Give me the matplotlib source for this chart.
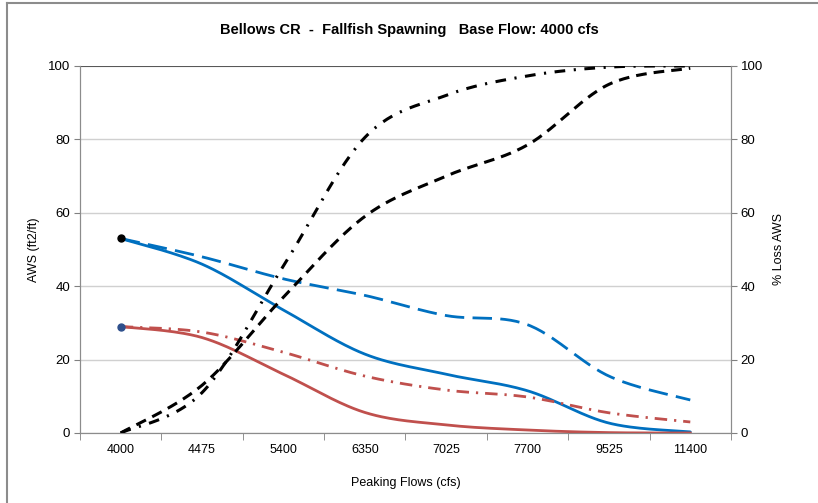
import numpy as np
import matplotlib
matplotlib.use("Agg")
import matplotlib.pyplot as plt
from matplotlib.lines import Line2D

plt.rcParams['font.family'] = ['Liberation Sans', 'DejaVu Sans']

categories = ["4000", "4475", "5400", "6350", "7025", "7700", "9525", "11400"]
aws_blue_solid = [53.0, 46.0, 33.5, 21.5, 16.0, 11.5, 2.7, 0.3]
aws_blue_dashed = [53.0, 48.0, 42.0, 37.5, 32.0, 29.5, 15.5, 9.0]
aws_red_solid = [29.0, 26.0, 16.0, 5.6, 2.2, 0.8, 0.1, 0.0]
aws_red_dashdot = [29.0, 27.5, 22.0, 15.5, 11.7, 9.8, 5.5, 3.0]
loss_black_dashed = [0.0, 13.0, 37.0, 59.0, 70.0, 78.5, 95.0, 99.4]
loss_black_dashdot = [0.0, 11.0, 45.5, 80.5, 92.0, 97.3, 99.7, 100.0]


def smooth(xs, ys, n=30):
    """Excel-style smoothed line (Bezier with Catmull-Rom control points)."""
    xs = np.asarray(xs, float)
    ys = np.asarray(ys, float)
    P = np.column_stack([xs, ys])
    out = []
    m = len(P)
    for i in range(m - 1):
        p0 = P[i - 1] if i > 0 else P[i]
        p1 = P[i]
        p2 = P[i + 1]
        p3 = P[i + 2] if i + 2 < m else P[i + 1]
        c1 = p1 + (p2 - p0) / 6.0
        c2 = p2 - (p3 - p1) / 6.0
        t = np.linspace(0, 1, n)[:, None]
        seg = ((1 - t) ** 3) * p1 + 3 * ((1 - t) ** 2) * t * c1 + 3 * (1 - t) * t ** 2 * c2 + t ** 3 * p2
        if i > 0:
            seg = seg[1:]
        out.append(seg)
    out = np.vstack(out)
    return out[:, 0], out[:, 1]


fig = plt.figure(figsize=(8.18, 5.03), dpi=100)
ax = fig.add_axes([0.0978, 0.1392, 0.7958, 0.7296])
ax2 = ax.twinx()

x = np.arange(len(categories))
blue = "#0070C0"
red = "#C0504D"

lw = 2.0
sx, sy = smooth(x, aws_blue_solid)
ax.plot(sx, sy, color=blue, lw=lw, solid_capstyle="round", zorder=3)
sx, sy = smooth(x, aws_blue_dashed)
ax.plot(sx, sy, color=blue, lw=lw, linestyle=(0, (7, 3)), zorder=3)
sx, sy = smooth(x, aws_red_solid)
ax.plot(sx, sy, color=red, lw=lw, zorder=3)
sx, sy = smooth(x, aws_red_dashdot)
ax.plot(sx, sy, color=red, lw=lw, linestyle=(0, (4.5, 2.5, 0.8, 2.5)), zorder=3)

ax.plot([x[0]], [aws_blue_solid[0]], marker="o", color="black", ms=5, zorder=4)
ax.plot([x[0]], [aws_red_solid[0]], marker="o", color="#2E4F8C", ms=5, zorder=4)

sx, sy = smooth(x, loss_black_dashed)
ax2.plot(sx, sy, color="black", lw=2.2, linestyle=(0, (3.5, 2.3)), zorder=3)
sx, sy = smooth(x, loss_black_dashdot)
ax2.plot(sx, sy, color="black", lw=2.2, linestyle=(0, (3.5, 2.8, 0.7, 2.8)), zorder=3)

for a in (ax, ax2):
    a.set_ylim(0, 100)
    a.set_xlim(-0.5, len(categories) - 0.5)
    a.set_yticks(np.arange(0, 101, 20))
    a.tick_params(axis="y", direction="out", length=4, color="#808080", labelsize=9.5, pad=3)

ax.yaxis.grid(True, color="#D0D0D0", lw=1)
ax.set_axisbelow(True)
ax.axhline(100, color="#404040", lw=1.2, zorder=2)

ax.set_xticks(x)
ax.set_xticklabels(categories)
ax.set_xticks(np.arange(-0.5, len(categories)), minor=True)
ax.tick_params(axis="x", which="major", length=0, labelsize=9, pad=8)
ax.tick_params(axis="x", which="minor", length=5, color="#808080")

for a in (ax, ax2):
    for s in a.spines.values():
        s.set_color("#8C8C8C")
    a.spines["top"].set_visible(False)

ax.set_ylabel("AWS (ft2/ft)", fontsize=9, labelpad=6)
ax2.set_ylabel("% Loss AWS", fontsize=9, labelpad=7)
ax.set_xlabel("Peaking Flows (cfs)", fontsize=9, labelpad=15)
fig.suptitle("Bellows CR  -  Fallfish Spawning   Base Flow: 4000 cfs", fontsize=10.5,
             fontweight="bold", y=0.955)

# outer frame (left and top edges only, as in the reference)
fig.lines.append(Line2D([0.0085, 0.0085], [0.0, 0.994], transform=fig.transFigure,
                        color="#8C8C8C", lw=1.5))
fig.lines.append(Line2D([0.0085, 1.0], [0.994, 0.994], transform=fig.transFigure,
                        color="#8C8C8C", lw=1.5))

fig.savefig("out.png", dpi=100)
